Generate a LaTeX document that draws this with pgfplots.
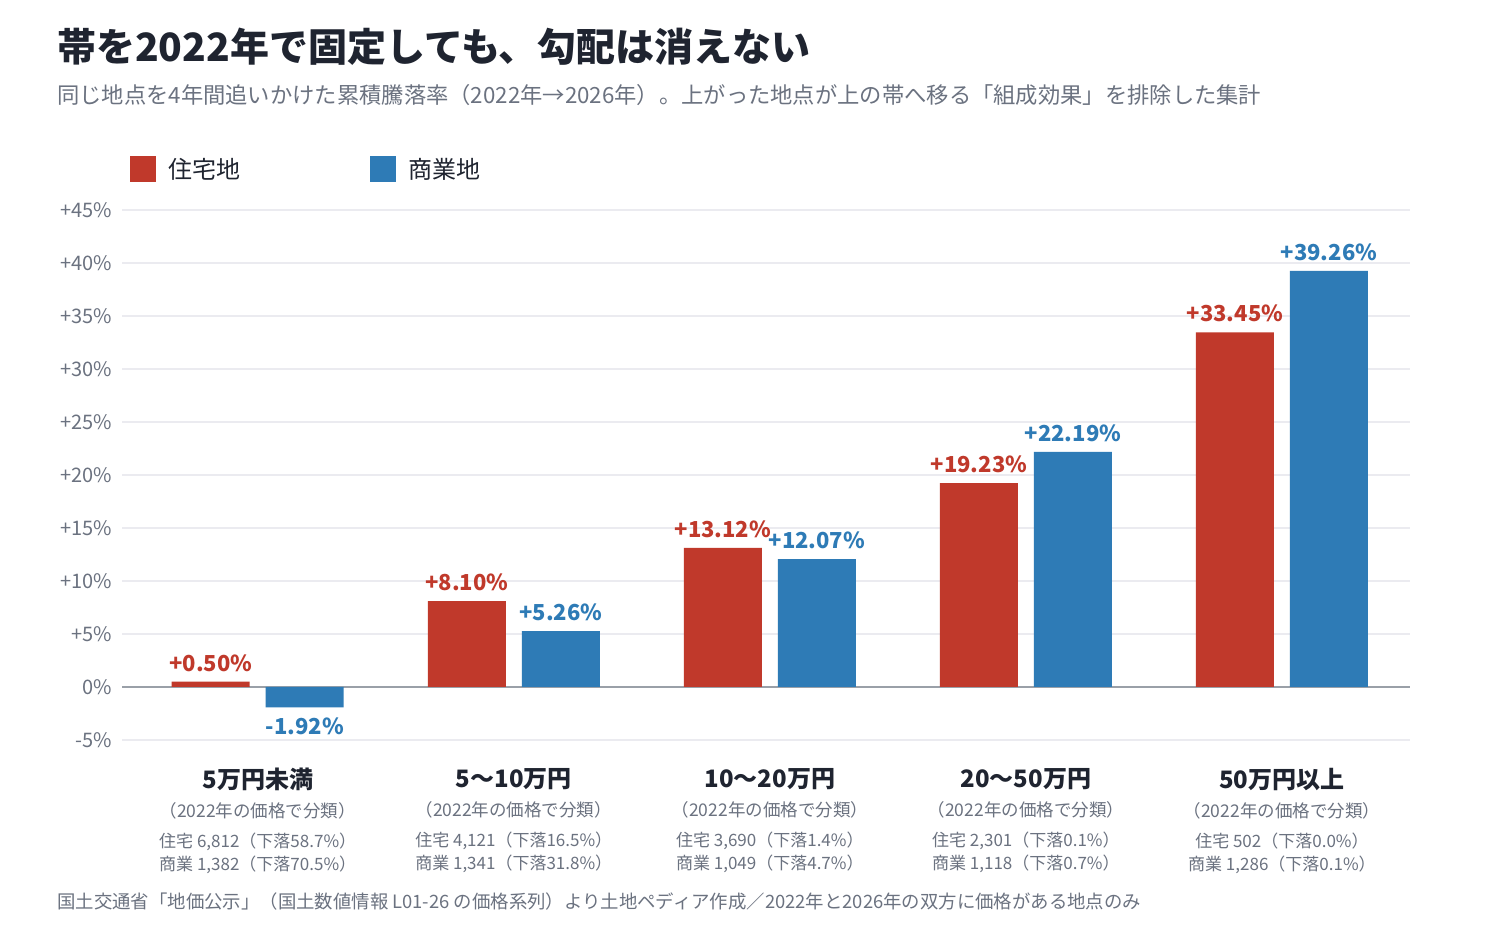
\documentclass[border=0pt]{standalone}
\usepackage{fontspec}
\setmainfont{Noto Sans CJK JP}
\usepackage{pgfplots}
\pgfplotsset{compat=1.18}

\definecolor{resred}{HTML}{C0392B}
\definecolor{comblue}{HTML}{2E7BB6}
\definecolor{titletext}{HTML}{1F2430}
\definecolor{subtext}{HTML}{6B7280}
\definecolor{gridc}{HTML}{EBEBF0}
\definecolor{zeroc}{HTML}{9AA0A8}

% category label: name, house count, house drop, commercial count, commercial drop
\newcommand\xl[5]{{\fontsize{24}{24}\selectfont\bfseries\color{titletext}#1}\\[6pt]
  {\fontsize{17.5}{17.5}\selectfont（2022年の価格で分類）}\\[7pt]
  住宅 #2（下落#3\%）\\
  商業 #4（下落#5\%）}

\begin{document}
\begin{tikzpicture}
\fill[white] (0,0) rectangle (1500pt,940pt);
\path[use as bounding box] (0,0) rectangle (1500pt,940pt);

\node[anchor=base west, inner sep=0pt, text=titletext, font=\fontsize{39}{39}\selectfont\bfseries]
  at (57pt,878pt) {帯を2022年で固定しても、勾配は消えない};
\node[anchor=base west, inner sep=0pt, text=subtext, font=\fontsize{22.3}{22.3}\selectfont]
  at (57pt,836pt) {同じ地点を4年間追いかけた累積騰落率（2022年→2026年）。上がった地点が上の帯へ移る「組成効果」を排除した集計};
\node[anchor=base west, inner sep=0pt, text=subtext, font=\fontsize{18.4}{18.4}\selectfont]
  at (57pt,31pt) {国土交通省「地価公示」（国土数値情報 L01-26 の価格系列）より土地ペディア作成／2022年と2026年の双方に価格がある地点のみ};

\begin{axis}[
  at={(122pt,200pt)}, anchor=south west,
  scale only axis, width=1288pt, height=530pt,
  ybar=16pt, bar width=78pt,
  xmin=-0.53, xmax=4.5,
  ymin=-5, ymax=45,
  axis line style={draw=none},
  major tick style={draw=none},
  ymajorgrids,
  major grid style={color=gridc, line width=1.3pt},
  ytick={-5,0,5,10,15,20,25,30,35,40,45},
  yticklabels={-5\%,0\%,+5\%,+10\%,+15\%,+20\%,+25\%,+30\%,+35\%,+40\%,+45\%},
  yticklabel style={font=\fontsize{20}{20}\selectfont, text=subtext, inner sep=0pt, xshift=-10pt},
  extra y ticks={0},
  extra y tick labels={},
  extra y tick style={major grid style={color=zeroc, line width=1.6pt}},
  xtick={0,1,2,3,4},
  xticklabels={
    {\xl{5万円未満}{6,812}{58.7}{1,382}{70.5}},
    {\xl{5〜10万円}{4,121}{16.5}{1,341}{31.8}},
    {\xl{10〜20万円}{3,690}{1.4}{1,049}{4.7}},
    {\xl{20〜50万円}{2,301}{0.1}{1,118}{0.7}},
    {\xl{50万円以上}{502}{0.0}{1,286}{0.1}}},
  xticklabel style={align=center, anchor=north, inner sep=0pt, yshift=-24pt,
    font=\fontsize{17}{23}\selectfont, text=subtext},
  nodes near coords={\pgfmathprintnumber[fixed,fixed zerofill,precision=2,showpos,assume math mode=true]{\pgfplotspointmeta}\%},
  nodes near coords style={font=\fontsize{22}{22}\selectfont\bfseries, inner sep=10pt},
  legend style={at={(0.006,1.102)}, anchor=north west, draw=none, fill=none,
    inner sep=0pt, font=\fontsize{24}{24}\selectfont, text=titletext,
    /tikz/every even column/.append style={column sep=127pt},
    /tikz/every odd column/.append style={column sep=11pt}},
  legend columns=2,
  legend image code/.code={\fill[#1, draw=none] (0pt,-13pt) rectangle (26pt,13pt);},
]
% residential
\addplot[fill=resred, draw=none, every node near coord/.append style={text=resred}] coordinates {
  (0,0.50) (1,8.10) (2,13.12) (3,19.23) (4,33.45)
};
% commercial
\addplot[fill=comblue, draw=none, every node near coord/.append style={text=comblue}] coordinates {
  (0,-1.92) (1,5.26) (2,12.07) (3,22.19) (4,39.26)
};
\legend{住宅地,商業地}
\end{axis}
\end{tikzpicture}
\end{document}
